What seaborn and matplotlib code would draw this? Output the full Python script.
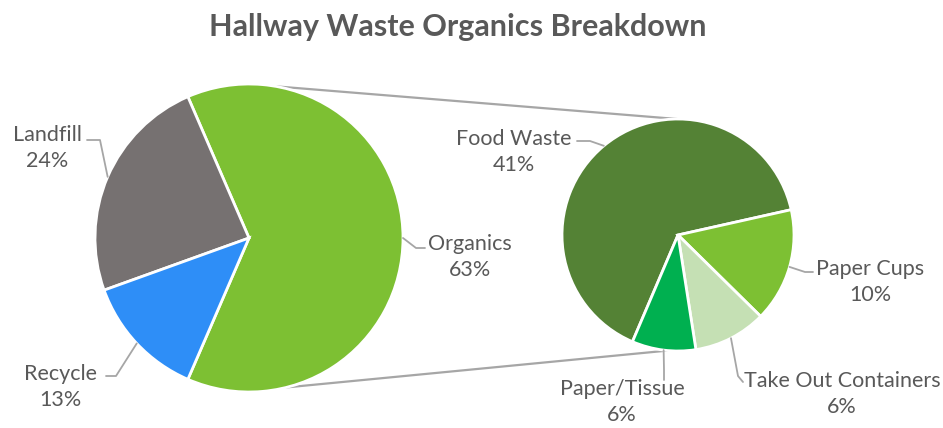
import numpy as np
import pandas as pd
import seaborn as sns
import matplotlib.pyplot as plt

# Inputs
main_labels = ["Organics", "Landfill", "Recycle"]
main_values = [63, 24, 13]
sub_labels = ["Food Waste", "Paper Cups", "Take Out Containers", "Paper/Tissue"]
sub_values = [41, 10, 6.4, 5.6]
TITLE = "Hallway Waste Organics Breakdown"
# Output
PATH_OUT = "out.png"

W, H = 943, 428
TEXT_COLOR = "#595959"
LINE_COLOR = "#a6a6a6"


def img(x, y):
    # image pixel coords -> data coords (y up)
    return x, H - y


def main():
    main_df = pd.DataFrame({"label": main_labels, "value": main_values})
    sub_df = pd.DataFrame({"label": sub_labels, "value": sub_values})

    sns.set_theme(style="white")
    plt.rcParams["font.family"] = ["Lato", "DejaVu Sans"]

    fig = plt.figure(figsize=(W / 100, H / 100), dpi=100)
    ax = fig.add_axes([0, 0, 1, 1])

    main_colors = ["#7dc033", "#767171", "#2e8ef7"]
    sub_colors = ["#548235", "#7dc033", "#c5e0b4", "#00b050"]
    wedge_kw = dict(edgecolor="white", linewidth=2)

    c1, r1 = img(249, 238), 154
    c2, r2 = img(678, 235), 116

    # main pie: organics centred on the right
    org_share = main_df["value"].iloc[0] / main_df["value"].sum()
    w1, _ = ax.pie(main_df["value"], colors=main_colors, center=c1, radius=r1,
                   startangle=-180 * org_share, counterclock=True,
                   wedgeprops=wedge_kw, frame=True)
    # second pie: breakdown of organics
    food_share = sub_df["value"].iloc[0] / sub_df["value"].sum()
    w2, _ = ax.pie(sub_df["value"], colors=sub_colors, center=c2, radius=r2,
                   startangle=12.6 + 360 * food_share, counterclock=False,
                   wedgeprops=wedge_kw, frame=True)
    ax.set_xlim(0, W)
    ax.set_ylim(0, H)
    ax.set_aspect("equal")
    ax.axis("off")

    # connector lines between the two pies
    def edge(c, r, ang):
        a = np.deg2rad(ang)
        return c[0] + r * np.cos(a), c[1] + r * np.sin(a)

    for a1, a2 in [(80, 90.5), (-76, -95)]:
        p1, p2 = edge(c1, r1, a1), edge(c2, r2, a2)
        ax.plot([p1[0], p2[0]], [p1[1], p2[1]], color=LINE_COLOR, lw=1.6, zorder=0)

    # data labels: text centre, elbow, line end (image coords)
    label_layout = {
        "Landfill": ((47, 148), (100, 140), (87, 140)),
        "Recycle": ((60, 387), (116, 376), (106, 376)),
        "Organics": ((470, 257), (416, 248), (425, 248)),
        "Food Waste": ((514, 152), (590, 141), (577, 141)),
        "Paper Cups": ((870, 282), (805, 272), (813, 272)),
        "Take Out Containers": ((842, 394), (738, 376), (743, 382)),
        "Paper/Tissue": ((622, 402), (664, 370), (664, 380)),
    }

    total = main_df["value"].sum()
    wedges = list(zip(main_df["label"], main_df["value"], w1, [c1] * 3, [r1] * 3)) + \
        list(zip(sub_df["label"], sub_df["value"], w2, [c2] * 4, [r2] * 4))
    for lab, val, wedge, c, r in wedges:
        mid = (wedge.theta1 + wedge.theta2) / 2
        start = edge(c, r, mid)
        (tx, ty), elbow, end = label_layout[lab]
        pts = [start, img(*elbow), img(*end)]
        ax.plot([p[0] for p in pts], [p[1] for p in pts], color=LINE_COLOR, lw=1.3)
        ax.text(*img(tx, ty), f"{lab}\n{val / total * 100:.0f}%", ha="center", va="center",
                fontsize=15.5, color=TEXT_COLOR, linespacing=1.42)

    fig.text(458 / W, 1 - 27 / H, TITLE, ha="center", va="center",
             fontsize=22, fontweight="bold", color=TEXT_COLOR)

    fig.savefig(PATH_OUT, dpi=100)


if __name__ == '__main__':
    main()
